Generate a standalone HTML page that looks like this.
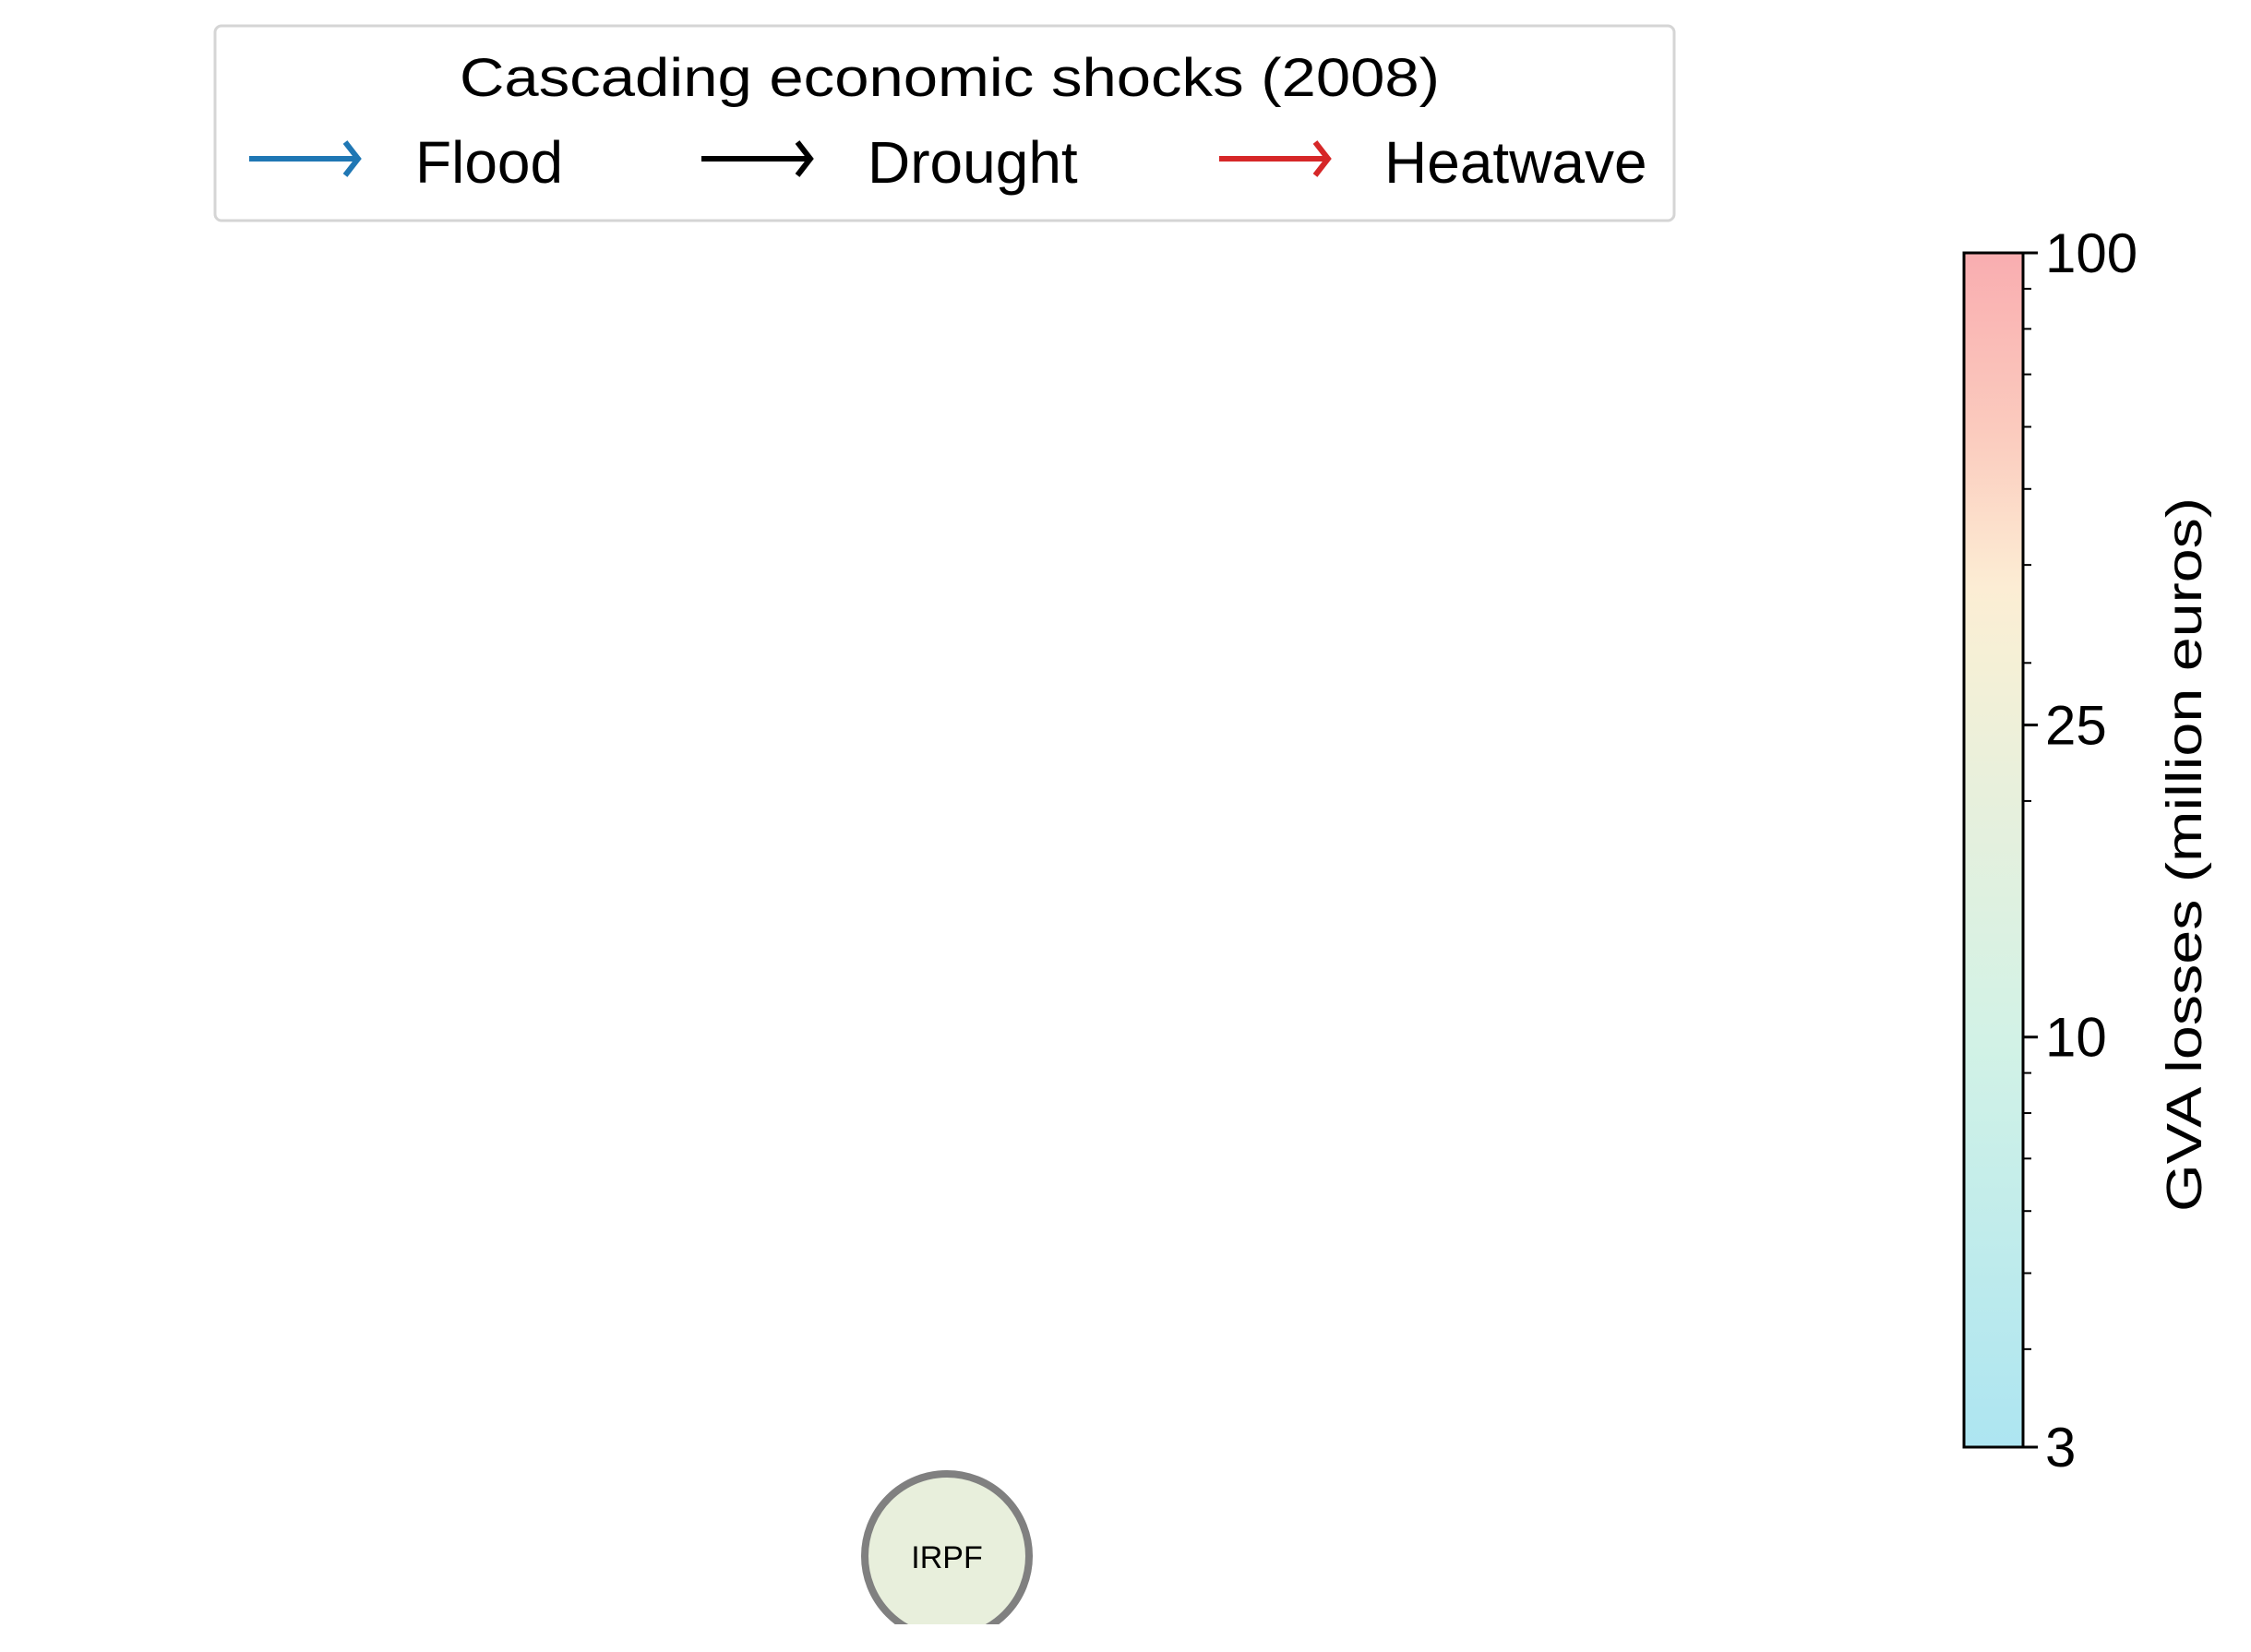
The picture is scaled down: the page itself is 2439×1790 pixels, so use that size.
<!DOCTYPE html>
<html><head><meta charset="utf-8"><style>
html,body{margin:0;padding:0;background:#fff;}
svg{display:block;font-family:"Liberation Sans",Arial,sans-serif;}
</style></head><body>
<svg id="chart" width="2439" height="1790" viewBox="0 0 2439 1790" xmlns="http://www.w3.org/2000/svg">
<defs>
<linearGradient id="cbgrad" x1="0" y1="1" x2="0" y2="0">
<stop offset="0" stop-color="#ade5f1"/>
<stop offset="0.34" stop-color="#d2f2e6"/>
<stop offset="0.55" stop-color="#e8f0dc"/>
<stop offset="0.66" stop-color="#f5f0d6"/>
<stop offset="0.72" stop-color="#fcedd4"/>
<stop offset="0.85" stop-color="#fbcbbe"/>
<stop offset="1" stop-color="#f9adb0"/>
</linearGradient>
<clipPath id="axclip"><rect x="0" y="0" width="2100" height="1760"/></clipPath>
</defs>

<g>
<rect x="233" y="28" width="1581" height="211" rx="7" fill="#fff" stroke="#d5d5d5" stroke-width="3"/>
<text x="1029" y="104" font-size="58" text-anchor="middle" textLength="1062" lengthAdjust="spacingAndGlyphs">Cascading economic shocks (2008)</text>
<g>
<path d="M270 172 H388 M374 154 L388 172 L374 190" fill="none" stroke="#1f77b4" stroke-width="6"/>
<text x="450" y="198" font-size="64">Flood</text>
</g>
<g>
<path d="M760 172 H878 M864 154 L878 172 L864 190" fill="none" stroke="#000" stroke-width="6"/>
<text x="940" y="198" font-size="64">Drought</text>
</g>
<g>
<path d="M1321 172 H1439 M1425 154 L1439 172 L1425 190" fill="none" stroke="#d62728" stroke-width="6"/>
<text x="1500" y="198" font-size="64">Heatwave</text>
</g>
</g>

<g clip-path="url(#axclip)">
<circle cx="1026" cy="1686" r="89" fill="#e8efdc" stroke="#808080" stroke-width="8"/>
<text x="1026" y="1699" font-size="34" text-anchor="middle">IRPF</text>
</g>

<g id="colorbar">
<rect x="2128" y="274" width="64" height="1294" fill="url(#cbgrad)" stroke="#000" stroke-width="3"/>
<text transform="translate(2385,926) rotate(-90)" font-size="54" text-anchor="middle" textLength="774" lengthAdjust="spacingAndGlyphs">GVA losses (million euros)</text>
</g>
</svg>
<script>
const majorTicks = [3, 10, 25, 100];
const majorLabels = ["3", "10", "25", "100"];
const minorTicks = [4, 5, 6, 7, 8, 9, 20, 30, 40, 50, 60, 70, 80, 90];
const cbMin = 3, cbMax = 100;
const cbTop = 274, cbBottom = 1568, cbRight = 2192;
function cbY(v){ return cbBottom - (Math.log(v) - Math.log(cbMin)) / (Math.log(cbMax) - Math.log(cbMin)) * (cbBottom - cbTop); }
const NS = "http://www.w3.org/2000/svg";
const cb = document.getElementById("colorbar");
majorTicks.forEach((v, i) => {
  const y = cbY(v);
  const ln = document.createElementNS(NS, "line");
  ln.setAttribute("x1", cbRight); ln.setAttribute("x2", cbRight + 16);
  ln.setAttribute("y1", y); ln.setAttribute("y2", y);
  ln.setAttribute("stroke", "#000"); ln.setAttribute("stroke-width", "3");
  
  
  cb.appendChild(ln);
  const t = document.createElementNS(NS, "text");
  t.setAttribute("x", cbRight + 24); t.setAttribute("y", y + 21);
  t.setAttribute("font-size", "60");
  t.textContent = majorLabels[i];
  
  
  cb.appendChild(t);
});
minorTicks.forEach(v => {
  const y = cbY(v);
  const ln = document.createElementNS(NS, "line");
  ln.setAttribute("x1", cbRight); ln.setAttribute("x2", cbRight + 9);
  ln.setAttribute("y1", y); ln.setAttribute("y2", y);
  ln.setAttribute("stroke", "#000"); ln.setAttribute("stroke-width", "2");
  
  
  cb.appendChild(ln);
});
</script>
</body></html>
